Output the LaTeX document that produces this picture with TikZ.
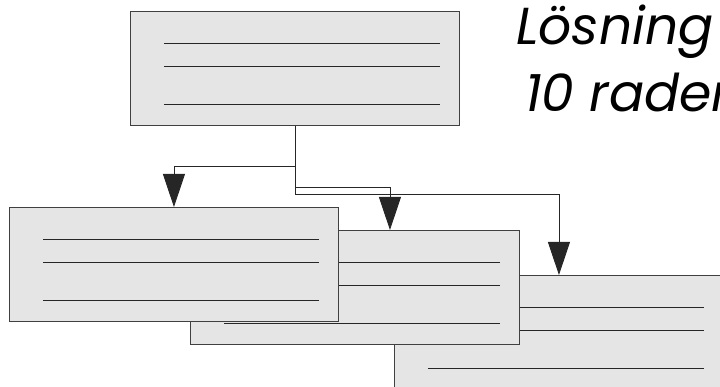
\documentclass[tikz,border=0pt]{standalone}
\usepackage{fontspec}
\newfontfamily\titlefont{Poppins}
\usetikzlibrary{arrows.meta,calc}
\tikzset{
  card/.style={rectangle, draw=black!75, fill=gray!20, line width=0.9pt, inner sep=0pt,
    minimum width=329pt, minimum height=114pt, anchor=north west},
  rule/.style={draw=black!85, line width=0.9pt},
  arr/.style={draw=black!85, line width=0.9pt, -{Triangle[width=22pt,length=33pt]}},
  title/.style={font=\titlefont\itshape\fontsize{52}{60}\selectfont, anchor=base west, inner sep=0pt}
}
\newcommand{\cardrules}[1]{%
  \draw[rule] ($(#1.north west)+(34,32)$) -- ($(#1.north east)+(-20,32)$);
  \draw[rule] ($(#1.north west)+(34,55)$) -- ($(#1.north east)+(-20,55)$);
  \draw[rule] ($(#1.north west)+(34,93)$) -- ($(#1.north east)+(-20,93)$);
}
\begin{document}
\begin{tikzpicture}[x=1pt,y=-1pt]
\useasboundingbox (0,0) rectangle (720,387);
\node[card] (C) at (394,275) {};
\cardrules{C}
\node[card] (B) at (190,230) {};
\cardrules{B}
\node[card] (A) at (9,207) {};
\cardrules{A}
\node[card] (T) at (130,11) {};
\cardrules{T}
\coordinate (Bin) at ($(B.north)+(35,0)$);
\draw[arr] (T.south) -- ++(0,41) -| (A.north);
\draw[arr] (T.south) -- ++(0,62) -| (Bin);
\draw[arr] (T.south) -- ++(0,69) -| (C.north);
\node[title] (t1) at (516,45) {Lösning};
\node[title] (t2) at (525,112) {10 raden};
\end{tikzpicture}
\end{document}
